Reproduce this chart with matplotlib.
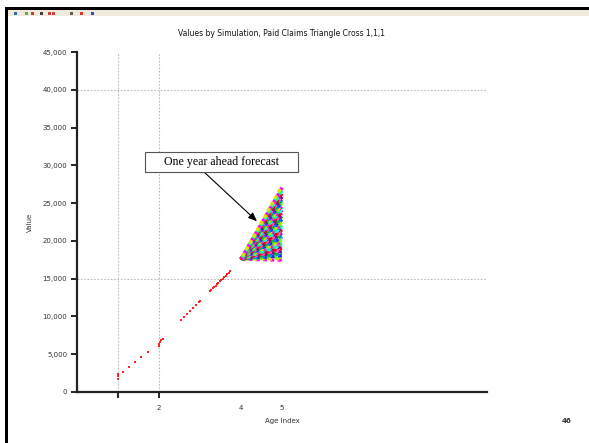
import matplotlib
matplotlib.use("Agg")
import matplotlib.pyplot as plt
from matplotlib.patches import Rectangle

# --- data -----------------------------------------------------------------
title = "Values by Simulation, Paid Claims Triangle Cross 1,1,1"
x_label = "Age Index"
y_label = "Value"
y_ticks = [0, 5000, 10000, 15000, 20000, 25000, 30000, 35000, 40000, 45000]
y_tick_labels = ["0", "5,000", "10,000", "15,000", "20,000", "25,000",
                 "30,000", "35,000", "40,000", "45,000"]
x_ticks = [1, 2, 4, 5]
x_tick_labels = ["", "2", "4", "5"]
ref_x = [1, 2]
ref_y = [15000, 40000]

# observed cumulative values by age
hist_x = [1.0, 1.0, 1.0, 1.12, 1.27, 1.41, 1.56, 1.73,
          2.0, 2.0, 2.03, 2.06, 2.1,
          2.54, 2.61, 2.68, 2.76, 2.83, 2.90, 2.98, 3.0,
          3.24, 3.28, 3.31, 3.35, 3.38, 3.42, 3.45, 3.49, 3.52, 3.56,
          3.59, 3.63, 3.66, 3.70, 3.73, 4.0]
hist_y = [1700, 2100, 2400, 2650, 3300, 3970, 4630, 5290,
          6100, 6400, 6650, 6850, 7010,
          9520, 9920, 10320, 10710, 11110, 11510, 11950, 12050,
          13360, 13550, 13720, 13910, 14090, 14280, 14450, 14640, 14820, 15010,
          15190, 15380, 15560, 15760, 16000, 17600]

# one-year-ahead simulated paths: start value and simulated values at age 5
sim_start_x = 4.0
sim_start_y = 17600
sim_end_x = 5.0
sim_end_y = [17450, 17650, 17850, 18050, 18250, 18450, 18650, 18850, 19050,
             19250, 19450, 19650, 19850, 20050, 20250, 20450, 20650, 20850,
             21050, 21250, 21450, 21650, 21850, 22050, 22250, 22450, 22650,
             22850, 23050, 23250, 23450, 23650, 23850, 24050, 24250, 24450,
             24650, 24850, 25050, 25250, 25450, 25650, 25850, 26050, 26250,
             26450, 26650, 26850, 27050, 27250]
sim_colors = ["#ff00ff", "#00c000", "#00ffff", "#2020ff", "#ff0000",
              "#e0e000", "#8000a0", "#00ff80", "#0090ff", "#c00060",
              "#60ff00", "#ff60c0"]

annot_text = "One year ahead forecast"
annot_x, annot_y = 4.39, 22600
page_number = "46"

# --- figure -----------------------------------------------------------------
W, H = 589, 443
fig = plt.figure(figsize=(W / 100, H / 100), dpi=100)
fig.patch.set_facecolor("white")

# window chrome: toolbar strip and black frame
fig.add_artist(Rectangle((5 / W, 1 - 16 / H), 1 - 5 / W, 6 / H,
                         transform=fig.transFigure, facecolor="#efeadb",
                         edgecolor="none"))
fig.add_artist(Rectangle((5 / W, 1 - 10 / H), 1 - 5 / W, 2.5 / H,
                         transform=fig.transFigure, facecolor="black",
                         edgecolor="none"))
fig.add_artist(Rectangle((5 / W, 0), 2.5 / W, 1 - 8 / H,
                         transform=fig.transFigure, facecolor="black",
                         edgecolor="none"))
for px, col in [(14, "#2a6fa8"), (25, "#6aa84f"), (31, "#c04040"),
                (40, "#404040"), (48, "#d04040"), (52, "#d04040"),
                (70, "#606060"), (80, "#e03030"), (91, "#2050c0")]:
    fig.add_artist(Rectangle((px / W, 1 - 15 / H), 3 / W, 3 / H,
                             transform=fig.transFigure, facecolor=col,
                             edgecolor="none"))

ax = fig.add_axes([77 / W, 1 - 392 / H, 410 / W, 340 / H])
ax.set_xlim(0, 10)
ax.set_ylim(0, 45000)

for s in ("top", "right"):
    ax.spines[s].set_visible(False)
for s in ("left", "bottom"):
    ax.spines[s].set_linewidth(1.6)
    ax.spines[s].set_color("#222222")

# reference lines
for xv in ref_x:
    ax.axvline(xv, color="#bbbbbb", lw=0.8, ls=(0, (1.5, 1.5)), zorder=1)
for yv in ref_y:
    ax.axhline(yv, color="#bbbbbb", lw=0.8, ls=(0, (1.5, 1.5)), zorder=1)

# simulated paths fan, dashed with staggered offsets so the colours interleave
for i, ye in enumerate(sim_end_y):
    ax.plot([sim_start_x, sim_end_x], [sim_start_y, ye],
            color=sim_colors[(i * 5) % len(sim_colors)], lw=2.4, zorder=2,
            ls=((i * 0.7) % 2.2, (1.2, 1.0)), dash_capstyle="butt")

# observed values
ax.scatter(hist_x, hist_y, s=2.5, marker="s", color="#ff2020",
           linewidths=0, zorder=3)

ax.set_yticks(y_ticks)
ax.set_yticklabels(y_tick_labels, fontsize=5, color="#333333")
ax.set_xticks(x_ticks)
ax.set_xticklabels(x_tick_labels, fontsize=5, color="#333333")
ax.tick_params(axis="y", length=4, width=1.2, pad=3)
ax.tick_params(axis="x", length=4, width=1.2, pad=5, direction="out")
for t in ax.xaxis.get_major_ticks()[2:]:
    t.tick1line.set_visible(False)

ax.set_xlabel(x_label, fontsize=5, color="#333333")
ax.xaxis.set_label_coords(0.5, -0.075)
ax.set_ylabel(y_label, fontsize=5, color="#333333")
ax.yaxis.set_label_coords(-0.108, 0.5)

fig.text(282 / W, 1 - 33 / H, title, ha="center", va="center",
         fontsize=5.5, color="#111111")

ax.annotate("     " + annot_text + "     ",
            xy=(annot_x, annot_y), xycoords="data",
            xytext=(221.5 / W, 1 - 162 / H), textcoords="figure fraction",
            ha="center", va="center", fontsize=8.6,
            family="Liberation Serif",
            bbox=dict(boxstyle="square,pad=0.3", fc="white", ec="#555555",
                      lw=0.8),
            arrowprops=dict(arrowstyle="-|>,head_length=0.6,head_width=0.25",
                            color="black", lw=0.8, relpos=(0.35, 0.0),
                            shrinkA=0, shrinkB=0),
            zorder=5)

fig.text(566 / W, 1 - 421 / H, page_number, ha="center", va="center",
         fontsize=5, fontweight="bold", color="#333333")

fig.savefig("out.png", dpi=100)
